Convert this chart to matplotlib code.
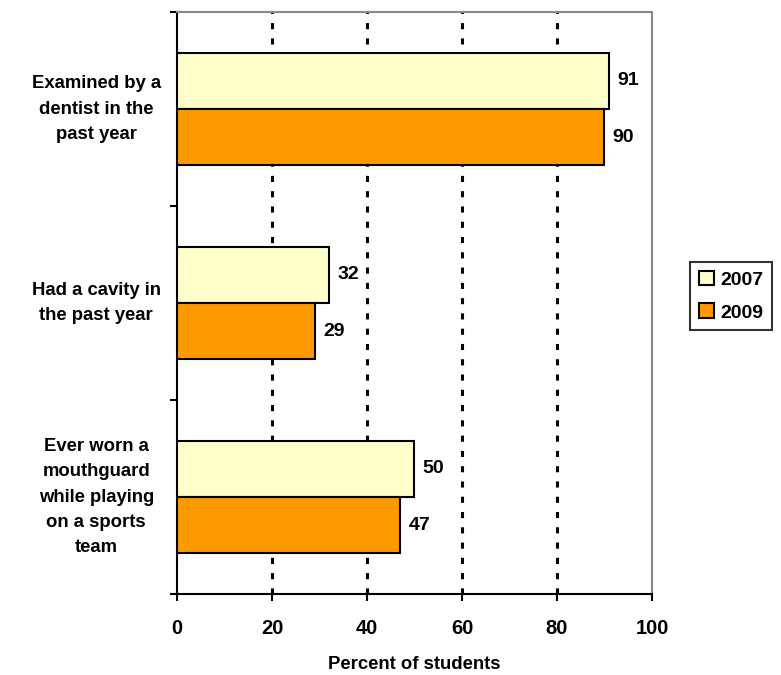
import matplotlib
matplotlib.use("Agg")
import matplotlib.pyplot as plt
import numpy as np

plt.rcParams['font.family'] = ['Liberation Sans', 'DejaVu Sans']
plt.rcParams['font.weight'] = 'bold'

categories = ["Examined by a\ndentist in the\npast year",
              "Had a cavity in\nthe past year",
              "Ever worn a\nmouthguard\nwhile playing\non a sports\nteam"]
series_names = ["2007", "2009"]
values_2007 = [91, 32, 50]
values_2009 = [90, 29, 47]
colors = ["#FFFFCC", "#FF9900"]
xticks = [0, 20, 40, 60, 80, 100]

fig = plt.figure(figsize=(7.81, 6.75), dpi=100)
ax = fig.add_axes([0.2266, 0.12, 0.6082, 0.8622])

y = np.arange(len(categories))
h = 0.29
b1 = ax.barh(y - h/2, values_2007, height=h, color=colors[0], edgecolor='black', linewidth=1.5, label=series_names[0], zorder=3)
b2 = ax.barh(y + h/2, values_2009, height=h, color=colors[1], edgecolor='black', linewidth=1.5, label=series_names[1], zorder=3)

for bars, vals in ((b1, values_2007), (b2, values_2009)):
    for rect, v in zip(bars, vals):
        ax.annotate(str(v), (v, rect.get_y() + rect.get_height()/2), xytext=(6, 0),
                    textcoords='offset points', va='center', ha='left',
                    fontsize=14, fontweight='bold')

ax.set_xlim(0, 100)
ax.set_ylim(2.5, -0.5)
ax.set_xticks(xticks)
ax.tick_params(axis='x', labelsize=14.5, length=5, width=1.5, direction='out', pad=13)
ax.set_yticks([-0.5, 0.5, 1.5, 2.5])
ax.set_yticklabels([])
ax.tick_params(axis='y', length=5, width=1.5, direction='out')
for i, c in enumerate(categories):
    ax.text(-0.17, i, c, transform=ax.get_yaxis_transform(), ha='center', va='center',
            fontsize=13.3, fontweight='bold', multialignment='center', linespacing=1.65)

ax.xaxis.grid(True, linestyle=(0, (2, 3)), color='black', linewidth=2.2)
gl = ax.xaxis.get_gridlines()
gl[0].set_visible(False)
gl[-1].set_visible(False)
ax.set_axisbelow(True)
ax.spines['left'].set_linewidth(1.5)
ax.spines['bottom'].set_linewidth(1.5)
ax.spines['top'].set_color('#888888')
ax.spines['right'].set_color('#888888')
ax.spines['right'].set_linestyle((0, (3, 1)))
ax.spines['right'].set_linewidth(1.5)
ax.spines['top'].set_linewidth(1.5)

ax.set_xlabel("Percent of students", fontsize=13.3, fontweight='bold', labelpad=13)

leg = ax.legend(loc='center left', bbox_to_anchor=(1.08, 0.512), fontsize=14, frameon=True,
                fancybox=False, edgecolor='black', handlelength=0.8, handleheight=0.8,
                handletextpad=0.3, borderpad=0.45, labelspacing=0.75, borderaxespad=0)
leg.get_frame().set_linewidth(1.5)
for t in leg.get_texts():
    t.set_fontweight('bold')

fig.savefig("out.png", dpi=100)
